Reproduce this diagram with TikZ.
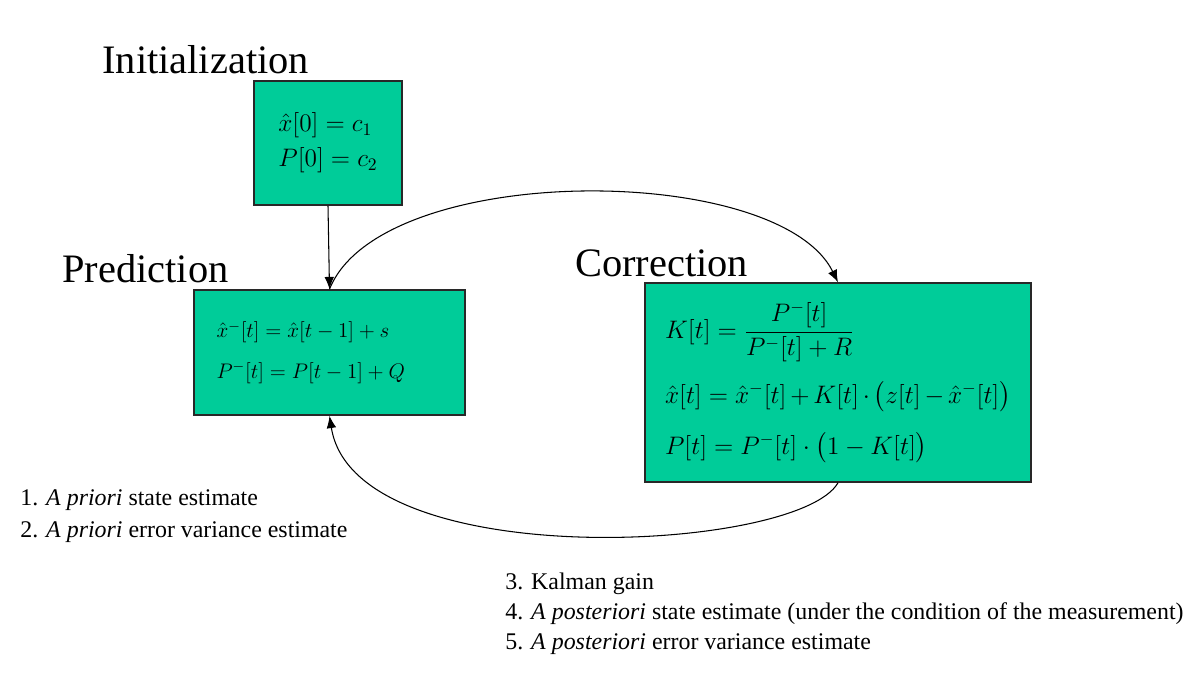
\documentclass[tikz,border=0pt]{standalone}
\usepackage{amsmath,amssymb}
\usepackage{fontspec}
\setmainfont{Liberation Serif}
\usepackage{xcolor}
\usepackage{tikz}
\usetikzlibrary{arrows.meta,positioning,calc}
\definecolor{boxgreen}{RGB}{0,204,153}
\definecolor{framegray}{RGB}{40,40,40}
\newcommand{\stepname}[1]{\fontsize{23}{27}\selectfont #1}

\begin{document}
\begin{tikzpicture}[
      x=0.02cm, y=-0.02cm,
      box/.style={draw=framegray, line width=0.9pt, fill=boxgreen, inner xsep=0.45cm,
        align=left, font=\fontsize{12}{16}\selectfont},
      arr/.style={-{Latex[length=7pt,width=5.5pt]}, draw=black, line width=0.6pt},
      title/.style={anchor=base west, inner sep=0pt},
      note/.style={anchor=base west, inner sep=0pt, font=\fontsize{13.6}{16}\selectfont}
    ]
      \useasboundingbox (0,0) rectangle (1200,681);
      % the three stages
      \node[box, minimum width=2.96cm, minimum height=2.48cm, font=\fontsize{14.4}{18}\selectfont] (init) at (328,143)
        {$\hat{x}[0] = c_1$\\[2pt] $P[0] = c_2$};
      \node[box, text width=4.52cm, minimum height=2.5cm] (pred) at (329.5,352.5)
        {$\hat{x}^{-}[t] = \hat{x}[t-1] + s$\\[7pt] $P^{-}[t] = P[t-1] + Q$};
      \node[box, text width=6.92cm, minimum height=3.98cm, inner xsep=0.4cm, font=\fontsize{14.4}{18}\selectfont] (corr) at (838,382.5)
        {$K[t] = \dfrac{P^{-}[t]}{P^{-}[t] + R}$\\[10pt]
         $\hat{x}[t] = \hat{x}^{-}[t] + K[t]\cdot\bigl(z[t] - \hat{x}^{-}[t]\bigr)$\\[11pt]
         $P[t] = P^{-}[t]\cdot\bigl(1 - K[t]\bigr)$};
      \node[title] (initlbl) at (102,73) {\stepname{Initialization}};
      \node[title] (predlbl) at (62,282) {\stepname{Prediction}};
      \node[title] (corrlbl) at (575,276) {\stepname{Correction}};
      % connectors
      \draw[arr] (init.south) -- (pred.north);
      \draw[arr] (pred.north) .. controls +(51,-128) and +(-60,-121) .. (corr.north);
      \draw[arr] (corr.south) .. controls +(-40,70) and +(25,160) .. (pred.south);
      % notes
      \node[note] (note1) at (20,505) {1. \textit{A priori} state estimate};
      \node[note] (note2) at (20,537) {2. \textit{A priori} error variance estimate};
      \node[note] (note3) at (505,589) {3. Kalman gain};
      \node[note] (note4) at (505,619) {4. \textit{A posteriori} state estimate (under the condition of the measurement)};
      \node[note] (note5) at (505,649) {5. \textit{A posteriori} error variance estimate};
    \end{tikzpicture}
\end{document}
